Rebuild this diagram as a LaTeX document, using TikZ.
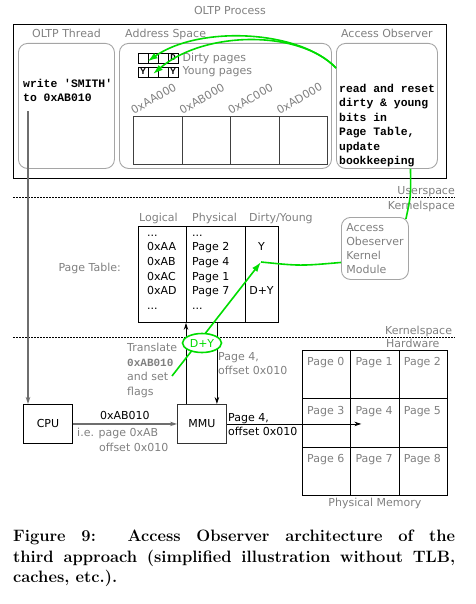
\documentclass[tikz,border=0pt]{standalone}
\usepackage{fontspec}
\setsansfont{DejaVu Sans}
\setmonofont{Liberation Mono}
\usepackage{xcolor}
\usetikzlibrary{arrows.meta,positioning,shapes.geometric,calc}
\definecolor{lblgray}{RGB}{128,128,128}
\definecolor{boxgray}{RGB}{165,165,165}
\definecolor{lingray}{RGB}{110,110,110}
\definecolor{obsgreen}{RGB}{0,220,0}
\newcommand{\rowdots}{...}

\begin{document}
\begin{tikzpicture}[x=1pt,y=1pt,>={Stealth[length=7pt,width=4.5pt]},
  lbl/.style={font=\sffamily\fontsize{11}{14.5}\selectfont,text=lblgray,inner sep=0pt,align=left},
  txt/.style={font=\sffamily\fontsize{11}{14.5}\selectfont,inner sep=0pt,align=left},
  code/.style={font=\ttfamily\bfseries\fontsize{11.4}{14.5}\selectfont,inner sep=0pt,align=left},
  area/.style={draw=boxgray,line width=0.9pt,rounded corners=9pt,inner sep=0pt},
  bitbox/.style={draw,line width=0.7pt,minimum size=10pt,inner sep=0pt,font=\ttfamily\bfseries\fontsize{9}{9}\selectfont},
  pagebox/.style={draw=black!75,line width=1.1pt,minimum width=48.5pt,minimum height=48pt,inner sep=0pt},
  membox/.style={draw,line width=0.9pt,minimum width=48.33pt,minimum height=48.33pt,inner sep=0pt},
  unitbox/.style={draw,line width=0.9pt,minimum width=49pt,minimum height=39pt,inner sep=0pt,font=\sffamily\fontsize{11}{13}\selectfont},
  sep/.style={line width=0.8pt,dash pattern=on 2pt off 1pt},
  obsline/.style={draw=obsgreen,line width=1.6pt,-{Latex[length=10pt,width=6.5pt]}},
  grayarrow/.style={draw=lingray,line width=1.3pt,->},
]
\useasboundingbox (0,0) rectangle (475,-604);

% user space
\node[draw,line width=0.9pt,minimum width=433pt,minimum height=154pt,inner sep=0pt,anchor=north west] (proc) at (13,-24) {};
\node[lbl,above=9pt of proc] (proclbl) {OLTP Process};
\node[area,minimum width=96pt,minimum height=125pt,anchor=north west] (thread) at (18,-43) {};
\node[lbl,above=5pt of thread] (threadlbl) {OLTP Thread};
\node[area,minimum width=212pt,minimum height=125pt,anchor=north west] (addr) at (119,-43) {};
\node[lbl,anchor=south west] (addrlbl) at ([xshift=6pt,yshift=3.5pt]addr.north west) {Address Space};
\node[area,minimum width=101pt,minimum height=125pt,anchor=north west] (obs) at (336,-43) {};
\node[lbl,above=5pt of obs] (obslbl) {Access Observer};

\node[code,anchor=north west] (thrtxt) at (23,-79) {write 'SMITH'\\to 0xAB010};
\node[code,anchor=north west] (obstxt) at (339,-84) {read and reset\\dirty \& young\\bits in\\Page Table,\\update\\bookkeeping};

\foreach \i/\dl/\yl in {1/{}/Y,2/{}/{},3/{}/{},4/D/Y}{
  \node[bitbox] (d\i) at (133+10*\i,-58) {\dl};
  \node[bitbox] (y\i) at (133+10*\i,-72) {\yl};
}
\node[lbl,anchor=west,right=4pt of d4] (dirtylbl) {Dirty pages};
\node[lbl,anchor=west,right=4pt of y4] (younglbl) {Young pages};

\foreach \a [count=\i] in {AA,AB,AC,AD}{
  \node[pagebox,anchor=north west] (p\i) at (133+48.5*\i-48.5,-116) {};
  \node[lbl,rotate=30,anchor=south west] (pl\i) at ([xshift=1pt,yshift=1pt]p\i.north west) {0x\a000};
}

\draw[obsline] ([yshift=-25pt]obs.north west) .. controls (300,-30) and (200,-25) .. ([yshift=2pt]d2.south west);
\draw[obsline] ([yshift=-25pt]obs.north west) .. controls (300,-30) and (205,-30) .. ([yshift=-2pt]y2.center);

\draw[sep] (13,-197) -- (455,-197);
\node[lbl,anchor=base east] (userlbl) at (455,-194) {Userspace};
\node[lbl,anchor=base east] (kernlbl) at (455,-209) {Kernelspace};

% kernel space
\node[area,minimum width=67pt,minimum height=62pt,anchor=north west,text=lblgray,align=left,
  font=\sffamily\fontsize{11}{14.2}\selectfont] (km) at (341,-217) {Access\\Obeserver\\Kernel\\Module};
\draw[draw=obsgreen,line width=1.6pt] ([xshift=23.5pt]obs.south) .. controls (411,-195) .. ([xshift=-3pt,yshift=-2pt]km.north east);

\node[draw,line width=0.9pt,minimum width=140pt,minimum height=96pt,inner sep=0pt,anchor=north west] (tbl) at (138,-226) {};
\draw[line width=0.9pt] ([xshift=48pt]tbl.north west) -- ([xshift=48pt]tbl.south west);
\draw[line width=0.9pt] ([xshift=107pt]tbl.north west) -- ([xshift=107pt]tbl.south west);
\node[lbl,anchor=base west] (loglbl) at (139,-221) {Logical};
\node[lbl,anchor=base west] (phylbl) at (192,-221) {Physical};
\node[lbl,anchor=base west] (dylbl) at (249,-221) {Dirty/Young};
\node[lbl,anchor=base east] (tbllbl) at (121,-271) {Page Table:};
\foreach \l/\p [count=\r] in {\rowdots/\rowdots,0xAA/Page 2,0xAB/Page 4,0xAC/Page 1,0xAD/Page 7,\rowdots/\rowdots}{
  \node[txt,anchor=base west] (lg\r) at (147,-221.6-14.6*\r) {\l};
  \node[txt,anchor=base west] (ph\r) at (192,-221.6-14.6*\r) {\p};
}
\node[txt,anchor=base] (dy2) at (261.5,-250.8) {Y};
\node[txt,anchor=base] (dy5) at (261.5,-294.6) {D+Y};
\coordinate (flag) at (261,-262);
\draw[draw=obsgreen,line width=1.6pt] ([yshift=-14pt]km.west) .. controls (300,-266) .. (flag);

\draw[sep] (13,-337) -- (455,-337);
\node[lbl,anchor=base west] (kern2lbl) at (385,-334) {Kernelspace};
\node[lbl,anchor=base west] (hwlbl) at (386,-347) {Hardware};

% hardware
\node[unitbox,anchor=north west] (cpu) at (23,-404) {CPU};
\node[unitbox,anchor=north west,draw=black!80] (mmu) at (177,-404) {MMU};
\foreach \n in {0,...,8}{
  \pgfmathtruncatemacro\c{mod(\n,3)}
  \pgfmathtruncatemacro\r{div(\n,3)}
  \node[membox,anchor=north west] (m\n) at (302+48.33*\c,-350-48.33*\r) {};
  \node[lbl,anchor=north west] (ml\n) at ([xshift=5pt,yshift=-7.5pt]m\n.north west) {Page \n};
}
\node[lbl,below=2pt of m7] (memlbl) {Physical Memory};

\node[lbl,anchor=north west] (translbl) at (127,-343) {Translate\\{\ttfamily\bfseries 0xAB010}\\and set\\flags};
\node[lbl,anchor=north west] (offlbl) at (218,-352) {Page 4,\\offset 0x010};
\coordinate (setflags) at (172,-376);

\draw[grayarrow] ([xshift=5pt,yshift=-9pt]thrtxt.south west) -- ([xshift=5pt]cpu.north west);
\draw[grayarrow] (cpu) -- node[txt,above=4pt] (vaddr) {0xAB010} (mmu);
\node[lbl,anchor=north west] (vaddrlbl) at (77,-428) {i.e. page 0xAB\\\hspace*{22pt}offset 0x010};
\draw[->,line width=0.8pt] ([xshift=9pt]mmu.north west) -- ([xshift=9pt]mmu.north west |- tbl.south);
\draw[->,line width=0.8pt] ([xshift=-10pt]mmu.north east |- tbl.south) -- ([xshift=-10pt]mmu.north east);
\coordinate (hit) at ([xshift=11pt]m4.west);
\draw[->,line width=0.8pt] (mmu.east) -- (hit |- mmu.east);
\node[txt,anchor=north west] (paddr) at (228,-413) {Page 4,\\offset 0x010};

\draw[obsline] (setflags) -- (flag);
\node[draw=obsgreen,line width=1.6pt,fill=white,ellipse,minimum width=39pt,minimum height=19pt,inner sep=0pt,
  text=obsgreen,font=\sffamily\fontsize{11}{13}\selectfont] (dyflag) at (202,-343) {D+Y};

\node[anchor=north west,text width=442pt,align=justify,inner sep=0pt,font=\fontsize{16.5}{20.5}\selectfont\bfseries] (caption) at (13,-530)
  {Figure 9:\ \ Access Observer architecture of the\linebreak third approach (simplified illustration without TLB,\linebreak caches, etc.).};
\end{tikzpicture}
\end{document}
